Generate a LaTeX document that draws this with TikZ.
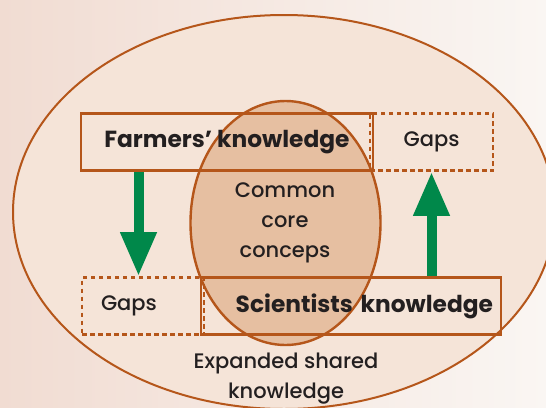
\documentclass[tikz,border=0pt]{standalone}
\usepackage{fontspec}
\setmainfont{Poppins}[UprightFont=* Medium, BoldFont=* Bold]
\usetikzlibrary{arrows.meta}
\definecolor{rust}{RGB}{181,86,26}
\definecolor{leaf}{RGB}{0,136,74}
\definecolor{peach}{RGB}{245,228,216}
\definecolor{corefill}{RGB}{230,191,161}
\definecolor{ink}{RGB}{35,31,32}
\tikzstyle{knowbox}=[draw=rust, line width=2.6pt, inner sep=0pt, minimum height=57pt,
    text=ink, font=\bfseries\fontsize{23.3}{25}\selectfont]
\tikzstyle{gapbox}=[knowbox, dash pattern=on 4.5pt off 3.5pt, font=\fontsize{21}{25}\selectfont]
\tikzstyle{plain}=[text=ink, align=center, inner sep=0pt]
\tikzstyle{bigarrow}=[draw=leaf, line width=10pt, -{Triangle[width=34pt,length=44pt]}]
\newcommand{\knode}{\node[knowbox]}

\begin{document}
\begin{tikzpicture}[x=1pt, y=-1pt]
\useasboundingbox (0,0) rectangle (546,407);
\shade[left color={rgb,255:red,241;green,220;blue,210}, right color={rgb,255:red,250;green,246;blue,243}]
    (0,0) rectangle (546,407);
\begin{scope}
\clip (0,0) rectangle (546,407);
\draw[rust, line width=2pt, fill=peach] (284,212) ellipse [x radius=271, y radius=197];
\end{scope}
\draw[rust, line width=2.4pt, fill=corefill] (285.5,223) ellipse [x radius=95, y radius=122];
\knode[minimum width=292pt] (farm) at (227,142) {Farmers’ knowledge};
\node[gapbox, minimum width=123pt] (gapR) at (431.5,142) {Gaps};
\knode[minimum width=300pt, text width=284pt, align=right] (sci) at (351,306) {Scientists knowledge};
\node[gapbox, minimum width=122pt, text width=84pt, align=left] (gapL) at (143,306) {Gaps};
\node[plain, font=\fontsize{21}{30}\selectfont] (core) at (285,223) {Common\\core\\conceps};
\node[plain, font=\fontsize{21}{30}\selectfont] (shared) at (286,379) {Expanded shared\\knowledge};
\coordinate (drop) at ([xshift=-4.5pt]gapL.north);
\draw[bigarrow] (farm.south -| drop) -- (drop);
\draw[bigarrow] (sci.north -| gapR.south) -- (gapR.south);
\end{tikzpicture}
\end{document}
